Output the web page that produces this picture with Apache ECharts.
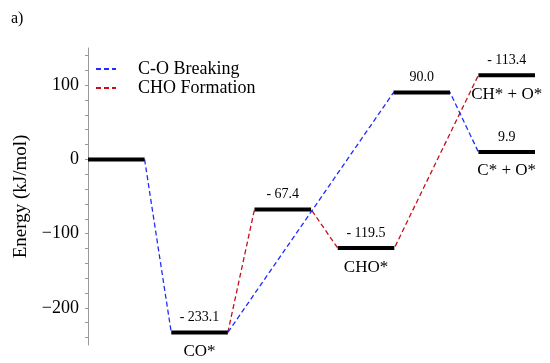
<!DOCTYPE html>
<html>
<head>
<meta charset="utf-8">
<script src="https://cdn.jsdelivr.net/npm/echarts@6/dist/echarts.min.js"></script>
<style>html,body{margin:0;padding:0;background:#fff;}#main{width:550px;height:363px;}</style>
</head>
<body>
<div id="main"></div>
<script>
// Energy levels (reaction coordinate start, energy in kJ/mol)
var levelStart = [0, 1, 2, 3, 3.67, 4.69, 4.69];
var levelWidth = 0.68;
var levelEnergy = [0, -233.1, -67.4, -119.5, 90.0, 113.4, 9.9];
var levelValueLabel = ['', '- 233.1', '- 67.4', '- 119.5', '90.0', '- 113.4', '9.9'];
var levelName = ['', 'CO*', '', 'CHO*', '', 'CH* + O*', 'C* + O*'];
// Pathways (indices into levels)
var pathCOBreaking = [0, 1, 4, 6];
var pathCHOFormation = [1, 2, 3, 5];
var seriesNames = ['C-O Breaking', 'CHO Formation'];
// Axis ticks
var yLabelValues = [-200, -100, 0, 100];
var yTickValues = [-240, -220, -200, -180, -160, -140, -120, -100, -80, -60, -40, -20, 0, 20, 40, 60, 80, 100, 120, 140];

function pathPoints(path) {
  var pts = [];
  for (var i = 0; i < path.length; i++) {
    var k = path[i];
    if (i > 0) pts.push([levelStart[k], levelEnergy[k]]);
    if (i < path.length - 1) pts.push([levelStart[k] + levelWidth, levelEnergy[k]]);
  }
  return pts;
}

var levelData = levelStart.map(function (s, i) { return [s, s + levelWidth, levelEnergy[i]]; });
var FONT = 'Liberation Serif';

var chart = echarts.init(document.getElementById('main'), null, {renderer: 'canvas'});
chart.setOption({
  animation: false,
  backgroundColor: '#fff',
  textStyle: {fontFamily: FONT, color: '#000'},
  title: {
    text: 'a)', left: 6, top: 6,
    textStyle: {fontFamily: FONT, fontSize: 16, fontWeight: 'normal', color: '#000'}
  },
  grid: {left: 88, right: 15, top: 48, bottom: 18, containLabel: false},
  legend: {
    orient: 'vertical', left: 95, top: 60, itemWidth: 20, itemHeight: 12, itemGap: 1, padding: 0,
    itemStyle: {opacity: 0, borderWidth: 0},
    data: seriesNames,
    textStyle: {fontFamily: FONT, fontSize: 18, color: '#000', padding: [0, 0, 0, 17]}
  },
  xAxis: {type: 'value', min: 0, max: 5.37, show: false},
  yAxis: {
    type: 'value', min: -250, max: 150,
    name: 'Energy (kJ/mol)', nameLocation: 'middle', nameGap: 50, nameRotate: 90,
    nameTextStyle: {fontFamily: FONT, fontSize: 19, color: '#000'},
    axisLine: {show: true, lineStyle: {color: '#999', width: 1}},
    axisTick: {show: true, inside: false, length: 3, lineStyle: {color: '#999'}, customValues: yTickValues},
    axisLabel: {
      fontFamily: FONT, fontSize: 18, color: '#000', margin: 9,
      customValues: yLabelValues,
      formatter: function (v) { return v < 0 ? '\u2212' + Math.abs(v) : String(v); }
    },
    splitLine: {show: false}
  },
  series: [
    {
      name: seriesNames[0], type: 'line', data: pathPoints(pathCOBreaking),
      symbol: 'none', z: 3,
      lineStyle: {color: '#1f2bff', width: 1.3, type: [5, 3]},
      itemStyle: {color: '#1f2bff'}
    },
    {
      name: seriesNames[1], type: 'line', data: pathPoints(pathCHOFormation),
      symbol: 'none', z: 2,
      lineStyle: {color: '#c4101c', width: 1.3, type: [5, 3]},
      itemStyle: {color: '#c4101c'}
    },
    {
      name: 'levels', type: 'custom', z: 5, data: levelData,
      renderItem: function (params, api) {
        var i = params.dataIndex;
        var p1 = api.coord([api.value(0), api.value(2)]);
        var p2 = api.coord([api.value(1), api.value(2)]);
        var cx = (p1[0] + p2[0]) / 2;
        return {
          type: 'group',
          children: [
            {type: 'line', shape: {x1: p1[0], y1: p1[1], x2: p2[0], y2: p2[1]},
             style: {stroke: '#000', lineWidth: 4}},
            {type: 'text', style: {text: levelValueLabel[i], x: cx, y: p1[1] - 15,
              align: 'center', verticalAlign: 'middle', fontFamily: FONT, fontSize: 14, fill: '#000'}},
            {type: 'text', style: {text: levelName[i], x: cx, y: p1[1] + 19,
              align: 'center', verticalAlign: 'middle', fontFamily: FONT, fontSize: 17, fill: '#000'}}
          ]
        };
      }
    }
  ]
});
</script>
</body>
</html>
